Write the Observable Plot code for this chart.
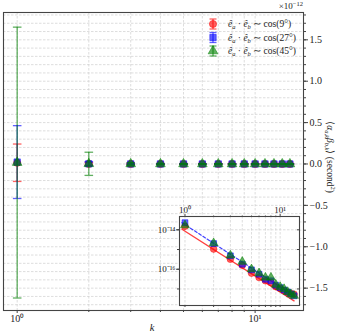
<!DOCTYPE html>
<html>
<head>
<meta charset="utf-8">
<script src="https://cdn.jsdelivr.net/npm/d3@7"></script>
<script src="https://cdn.jsdelivr.net/npm/@observablehq/plot@0.6"></script>
<style>
  html, body { margin: 0; padding: 0; background: white; }
  #wrap { position: relative; width: 341px; height: 336px; font-family: "Liberation Serif", serif; }
  #wrap > svg { position: absolute; }
</style>
</head>
<body>
<div id="wrap"></div>
<script>
// ---- data ----
const K = [1, 2, 3, 4, 5, 6, 7, 8, 9, 10, 11, 12, 13, 14];
const seriesLabels = ["cos(9°)", "cos(27°)", "cos(45°)"];
const meanRed   = [1.5e-14, 1.05e-15, 3.2e-16, 1.6e-16, 6.3e-17, 3.8e-17, 2.6e-17, 2.1e-17, 1.3e-17, 1.05e-17, 8.3e-18, 6.6e-18, 5.9e-18, 5.4e-18];
const meanBlue  = [2.3e-14, 2.0e-15, 4.8e-16, 1.8e-16, 9.3e-17, 5.6e-17, 3.1e-17, 2.6e-17, 1.55e-17, 1.17e-17, 8.9e-18, 7.1e-18, 5.6e-18, 4.5e-18];
const meanGreen = [1.7e-14, 2.1e-15, 5.0e-16, 2.4e-16, 1.0e-16, 6.3e-17, 3.8e-17, 3.8e-17, 1.66e-17, 1.26e-17, 1.0e-17, 7.1e-18, 5.4e-18, 4.5e-18];
const errRed    = [2.26e-13, 1.8e-14, 6e-15, 3e-15, 2e-15, 1.5e-15, 1e-15, 1e-15, 8e-16, 7e-16, 6e-16, 5e-16, 5e-16, 4e-16];
const errBlue   = [4.4e-13, 2.5e-14, 8e-15, 4e-15, 3e-15, 2e-15, 1.5e-15, 1.2e-15, 1e-15, 9e-16, 8e-16, 7e-16, 6e-16, 5e-16];
const errGreen  = [1.636e-12, 1.4e-13, 1.5e-14, 8e-15, 5e-15, 4e-15, 3e-15, 2.5e-15, 2e-15, 1.8e-15, 1.5e-15, 1.3e-15, 1.2e-15, 1e-15];
const yTickLabels = [-1.5, -1.0, -0.5, 0.0, 0.5, 1.0, 1.5];   // ×10^-12
const yExponent = -12;
const xMajor = [1, 10];
const insetYLabelled = [1e-14, 1e-16];
const insetYDecades = [1e-14, 1e-15, 1e-16, 1e-17];
const fitK = [0.93, 14];
const fitRed = [1.07e-14, 2.5e-18];
const fitBlue = [2.3e-14, 4.5e-18];

// ---- styling ----
const colors = ["#ff0000", "#0000ff", "#008000"];
const symbols = ["circle", "square", "triangle"];
const alpha = 0.62;
const scaleF = Math.pow(10, yExponent);

const means = [meanRed, meanBlue, meanGreen];
const errs = [errRed, errBlue, errGreen];
const series = [0, 1, 2].map(i => K.map((k, j) => ({k, mean: means[i][j], err: errs[i][j]})));

const capSymbol = {
  draw(ctx, size) { const w = Math.sqrt(size / Math.PI); ctx.moveTo(-w, 0); ctx.lineTo(w, 0); }
};
const sup = {"0":"⁰","1":"¹","2":"²","3":"³","4":"⁴","5":"⁵","6":"⁶","7":"⁷","8":"⁸","9":"⁹","-":"⁻"};
const pow10 = d => "10" + String(Math.round(Math.log10(d))).split("").map(c => sup[c]).join("");
const minorX = [2, 3, 4, 5, 6, 7, 8, 9];
const yMinor = d3.range(-17, 19).map(v => v / 10 * scaleF);
const yMajor = yTickLabels.map(v => v * scaleF);
const fmtY = d => { const v = d / scaleF; return (v < -1e-9 ? "−" : "") + Math.abs(v).toFixed(1); };

const gridStyle = {stroke: "#cfcfcf", strokeOpacity: 1, strokeDasharray: "2.5,1.5", strokeWidth: 0.7};

function seriesMarks(i, withErr, r) {
  const data = series[i];
  const c = colors[i];
  const m = [];
  if (withErr) {
    m.push(Plot.ruleX(data, {x: "k", y1: d => d.mean - d.err, y2: d => d.mean + d.err, stroke: c, strokeOpacity: alpha, strokeWidth: 1.3}));
    m.push(Plot.dot(data, {x: "k", y: d => d.mean + d.err, symbol: capSymbol, r: 4.3, fill: "none", stroke: c, strokeOpacity: alpha, strokeWidth: 1.3}));
    m.push(Plot.dot(data, {x: "k", y: d => d.mean - d.err, symbol: capSymbol, r: 4.3, fill: "none", stroke: c, strokeOpacity: alpha, strokeWidth: 1.3}));
  }
  m.push(Plot.dot(data, {x: "k", y: "mean", symbol: symbols[i], r, fill: c, fillOpacity: alpha, stroke: c, strokeOpacity: alpha, strokeWidth: 0.8}));
  return m;
}

const xDomain = [0.876, 15.97];

const main = Plot.plot({
  width: 341, height: 336,
  marginLeft: 3, marginRight: 38, marginTop: 12, marginBottom: 26,
  style: {fontFamily: "Liberation Serif, serif", fontSize: "10px", background: "transparent", color: "#222"},
  x: {type: "log", domain: xDomain},
  y: {domain: [-1.77e-12, 1.83e-12]},
  marks: [
    Plot.gridY(yMinor, gridStyle),
    Plot.gridX([...minorX, ...xMajor], gridStyle),
    Plot.axisY(yMajor, {anchor: "right", tickFormat: fmtY, tickSize: 4, tickPadding: 2, label: null, stroke: "#444", fontSize: 10}),
    Plot.axisY(yMinor, {anchor: "right", tickFormat: () => "", tickSize: 2, label: null, stroke: "#444"}),
    Plot.axisX(xMajor, {anchor: "bottom", tickFormat: pow10, tickSize: 3, tickPadding: 1, label: null, stroke: "#444", fontSize: 10}),
    Plot.axisX(minorX, {anchor: "bottom", tickFormat: () => "", tickSize: 2, label: null, stroke: "#444"}),
    ...seriesMarks(0, true, 3.6),
    ...seriesMarks(1, true, 3.6),
    ...seriesMarks(2, true, 3.6),
    Plot.frame({stroke: "#444", strokeWidth: 1.1})
  ]
});
main.style.left = "0px"; main.style.top = "0px";
document.getElementById("wrap").appendChild(main);

// ---- inset ----
const fitRows = fitK.map((k, j) => ({k, red: fitRed[j], blue: fitBlue[j]}));
const inset = Plot.plot({
  width: 152, height: 105,
  marginLeft: 30, marginRight: 2, marginTop: 14, marginBottom: 2,
  style: {fontFamily: "Liberation Serif, serif", fontSize: "9px", background: "transparent", color: "#222"},
  x: {type: "log", domain: xDomain},
  y: {type: "log", domain: [1.45e-18, 4.73e-14]},
  marks: [
    Plot.frame({fill: "white", stroke: "none"}),
    Plot.gridX([...minorX, ...xMajor], gridStyle),
    Plot.gridY(insetYDecades, gridStyle),
    Plot.axisX(xMajor, {anchor: "top", tickFormat: pow10, tickSize: 3, tickPadding: 1, label: null, stroke: "#444", fontSize: 9}),
    Plot.axisX(minorX, {anchor: "top", tickFormat: () => "", tickSize: 1.5, label: null, stroke: "#444"}),
    Plot.axisX([...xMajor, ...minorX], {anchor: "bottom", tickFormat: () => "", tickSize: 2, label: null, stroke: "#444"}),
    Plot.axisY(insetYLabelled, {anchor: "left", tickFormat: pow10, tickSize: 3, tickPadding: 1, label: null, stroke: "#444", fontSize: 9}),
    Plot.axisY(insetYDecades, {anchor: "left", tickFormat: () => "", tickSize: 2, label: null, stroke: "#444"}),
    Plot.axisY(insetYDecades, {anchor: "right", tickFormat: () => "", tickSize: -3, label: null, stroke: "#444"}),
    Plot.line(fitRows, {x: "k", y: "red", stroke: colors[0], strokeOpacity: 0.75, strokeWidth: 1.4}),
    Plot.line(fitRows, {x: "k", y: "blue", stroke: colors[1], strokeOpacity: 0.75, strokeWidth: 1.2, strokeDasharray: "3,2"}),
    ...seriesMarks(0, false, 3.3),
    ...seriesMarks(1, false, 3.3),
    ...seriesMarks(2, false, 3.3),
    Plot.frame({stroke: "#444", strokeWidth: 1.1})
  ]
});
inset.style.left = "149px"; inset.style.top = "202px";
document.getElementById("wrap").appendChild(inset);

// ---- annotations: legend, labels ----
const ns = "http://www.w3.org/2000/svg";
const over = document.createElementNS(ns, "svg");
over.setAttribute("width", 341); over.setAttribute("height", 336);
over.style.left = "0px"; over.style.top = "0px"; over.style.pointerEvents = "none";
over.style.fontFamily = "Liberation Serif, serif";
document.getElementById("wrap").appendChild(over);
const sel = d3.select(over);

const legendRows = [24, 37.5, 51];
seriesLabels.forEach((lab, i) => {
  const y = legendRows[i], x = 213, c = colors[i];
  const g = sel.append("g").attr("stroke", c).attr("stroke-opacity", alpha).attr("stroke-width", 1.3);
  g.append("line").attr("x1", x).attr("x2", x).attr("y1", y - 5).attr("y2", y + 5);
  g.append("line").attr("x1", x - 3.5).attr("x2", x + 3.5).attr("y1", y - 5).attr("y2", y - 5);
  g.append("line").attr("x1", x - 3.5).attr("x2", x + 3.5).attr("y1", y + 5).attr("y2", y + 5);
  const sym = d3.symbol().type([d3.symbolCircle, d3.symbolSquare, d3.symbolTriangle][i]).size(Math.PI * 3.6 * 3.6);
  sel.append("path").attr("d", sym()).attr("transform", `translate(${x},${y})`)
    .attr("fill", c).attr("fill-opacity", alpha).attr("stroke", c).attr("stroke-opacity", alpha).attr("stroke-width", 0.8);
  const t = sel.append("text").attr("x", 228).attr("y", y + 3.3).attr("font-size", 9.5).attr("fill", "#222");
  t.append("tspan").attr("font-style", "italic").text("ê");
  t.append("tspan").attr("font-style", "italic").attr("font-size", 6.5).attr("dy", 1.8).text("a");
  t.append("tspan").attr("dy", -1.8).text(" · ");
  t.append("tspan").attr("font-style", "italic").text("ê");
  t.append("tspan").attr("font-style", "italic").attr("font-size", 6.5).attr("dy", 1.8).text("b");
  t.append("tspan").attr("dy", -1.8).text(" ∼ " + lab);
});

// offset text
const off = sel.append("text").attr("x", 303).attr("y", 9).attr("text-anchor", "end").attr("font-size", 9).attr("fill", "#222");
off.append("tspan").text("×10");
off.append("tspan").attr("font-size", 6.5).attr("dy", -3.5).text("−12");

// x label
sel.append("text").attr("x", 152).attr("y", 331).attr("text-anchor", "middle").attr("font-size", 10.5)
  .attr("font-style", "italic").attr("fill", "#222").text("k");

// y label (rotated, reading top to bottom)
const yl = sel.append("text").attr("transform", "translate(327,157) rotate(90)").attr("text-anchor", "middle")
  .attr("font-size", 9.5).attr("fill", "#222");
yl.append("tspan").text("⟨");
yl.append("tspan").attr("font-style", "italic").text("α");
yl.append("tspan").attr("font-style", "italic").attr("font-size", 6.5).attr("dy", 1.8).text("a,k");
yl.append("tspan").attr("font-style", "italic").attr("dy", -1.8).text("β");
yl.append("tspan").attr("font-style", "italic").attr("font-size", 6.5).attr("dy", 1.8).text("b,k");
yl.append("tspan").attr("dy", -1.8).text("⟩ (second");
yl.append("tspan").attr("font-size", 6.5).attr("dy", -3.5).text("2");
yl.append("tspan").attr("dy", 3.5).text(")");
</script>
</body>
</html>
